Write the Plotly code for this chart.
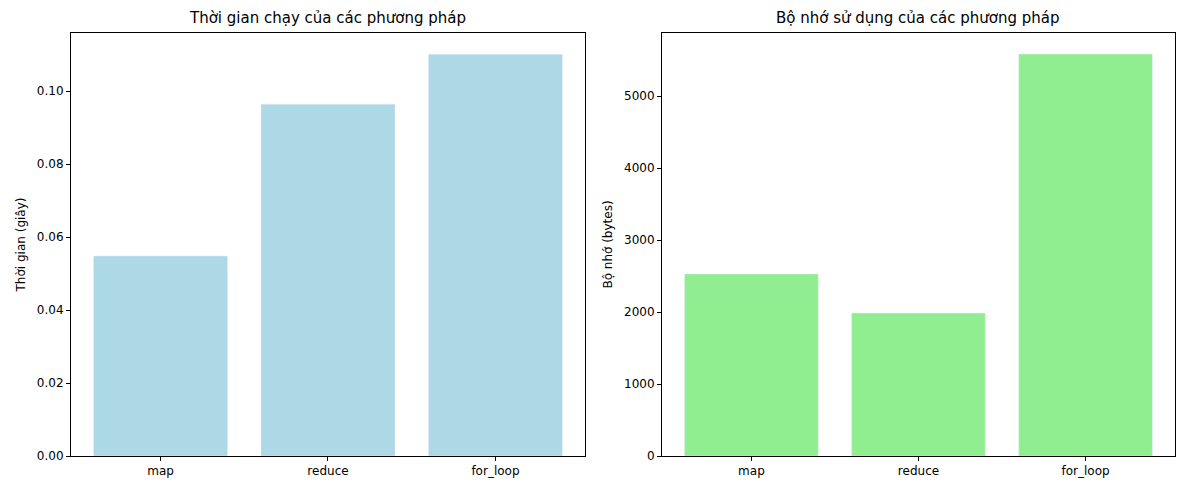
import plotly.graph_objects as go
from plotly.subplots import make_subplots

methods = ["map", "reduce", "for_loop"]
times = [0.0548, 0.0964, 0.1101]
memory = [2528, 1986, 5583]

d1 = [0.0533, 0.4886]
d2 = [0.5538, 0.9881]

fig = make_subplots(rows=1, cols=2, horizontal_spacing=0.065)
fig.add_trace(go.Bar(x=methods, y=times, marker_color="lightblue", width=0.8), 1, 1)
fig.add_trace(go.Bar(x=methods, y=memory, marker_color="lightgreen", width=0.8), 1, 2)

ax = dict(showline=True, mirror=True, linecolor="black", linewidth=1, ticks="outside",
          ticklen=4, tickcolor="black", showgrid=False, zeroline=False,
          tickfont=dict(size=12, color="black"))
fig.update_xaxes(**ax, range=[-0.535, 2.535])
fig.update_yaxes(**ax)
fig.update_xaxes(domain=d1, row=1, col=1)
fig.update_xaxes(domain=d2, row=1, col=2)
fig.update_yaxes(range=[0, 0.1159], tickvals=[0, 0.02, 0.04, 0.06, 0.08, 0.10],
                 ticktext=["0.00", "0.02", "0.04", "0.06", "0.08", "0.10"],
                 title=dict(text="Thời gian (giây)", font=dict(size=12, color="black"), standoff=8), row=1, col=1)
fig.update_yaxes(range=[0, 5875], tickvals=[0, 1000, 2000, 3000, 4000, 5000],
                 title=dict(text="Bộ nhớ (bytes)", font=dict(size=12, color="black"), standoff=8), row=1, col=2)

for xc, t in [((d1[0] + d1[1]) / 2, "Thời gian chạy của các phương pháp"),
              ((d2[0] + d2[1]) / 2, "Bộ nhớ sử dụng của các phương pháp")]:
    fig.add_annotation(x=xc, y=1, xref="paper", yref="paper", xanchor="center", yanchor="bottom",
                       yshift=4, text=t, showarrow=False, font=dict(size=15, color="black"))

fig.update_layout(width=1181, height=482, showlegend=False, plot_bgcolor="white",
                  paper_bgcolor="white", margin=dict(l=0, r=0, t=25, b=34),
                  font=dict(family="DejaVu Sans", color="black"), bargap=0.2)
fig.write_html("out.html")
